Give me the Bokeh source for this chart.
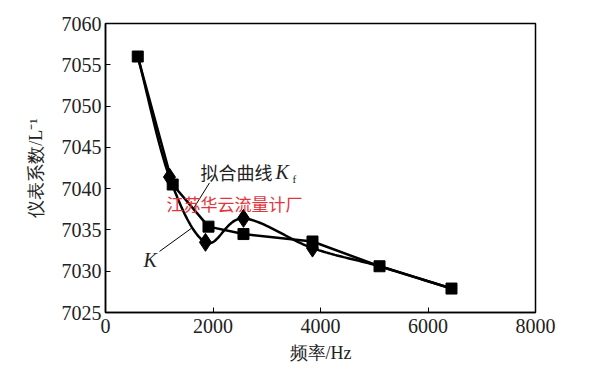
import numpy as np
from bokeh.plotting import figure
from bokeh.models import Range1d, Label, FixedTicker, Segment, ColumnDataSource
from bokeh.embed import file_html
from bokeh.resources import INLINE

# Data
freq_kf = [600, 1250, 1916, 2567, 3851, 5098, 6437]
k_fit = [7056.0, 7040.5, 7035.4, 7034.5, 7033.6, 7030.6, 7027.9]

freq_k = [600, 1190, 1860, 2567, 3851, 5098, 6437]
k_meas = [7056.0, 7041.4, 7033.5, 7036.4, 7032.8, 7030.6, 7027.9]
diamond_idx = [1, 2, 3, 4]

x_ticks = [0, 2000, 4000, 6000, 8000]
y_ticks = [7025, 7030, 7035, 7040, 7045, 7050, 7055, 7060]

SERIF = "Liberation Serif"
CJK = "Noto Sans CJK SC"


def catmull_rom(xs, ys, n=30):
    xs = np.asarray(xs, float)
    ys = np.asarray(ys, float)
    px = np.concatenate([[2 * xs[0] - xs[1]], xs, [2 * xs[-1] - xs[-2]]])
    py = np.concatenate([[2 * ys[0] - ys[1]], ys, [2 * ys[-1] - ys[-2]]])
    outx, outy = [], []
    t = np.linspace(0, 1, n, endpoint=False)
    for i in range(1, len(px) - 2):
        for P, out in ((px, outx), (py, outy)):
            p0, p1, p2, p3 = P[i - 1], P[i], P[i + 1], P[i + 2]
            out.extend(0.5 * ((2 * p1) + (-p0 + p2) * t
                              + (2 * p0 - 5 * p1 + 4 * p2 - p3) * t ** 2
                              + (-p0 + 3 * p1 - 3 * p2 + p3) * t ** 3))
    outx.append(xs[-1])
    outy.append(ys[-1])
    return outx, outy


p = figure(frame_width=430, frame_height=289, output_backend="svg",
           toolbar_location=None,
           x_range=Range1d(0, 8000), y_range=Range1d(7025, 7060),
           min_border_left=105, min_border_right=45, min_border_top=23,
           min_border_bottom=40)
p.xgrid.visible = False
p.ygrid.visible = False
p.outline_line_color = "black"
p.outline_line_width = 1.5
p.background_fill_color = "white"
p.border_fill_color = "white"

for ax in (p.xaxis[0], p.yaxis[0]):
    ax.axis_line_width = 1.5
    ax.major_tick_in = 5
    ax.major_tick_out = 0
    ax.minor_tick_line_color = None
    ax.major_label_text_font = SERIF
    ax.major_label_text_font_size = "20px"
    ax.major_label_text_color = "#222222"
    ax.axis_label_text_font = SERIF
    ax.axis_label_text_font_size = "18px"
    ax.axis_label_text_font_style = "normal"
    ax.axis_label_text_color = "#222222"

p.xaxis.ticker = FixedTicker(ticks=x_ticks)
p.yaxis.ticker = FixedTicker(ticks=y_ticks)
p.xaxis.axis_label = "频率/Hz"
p.yaxis.axis_label = "仪表系数/L⁻¹"
p.xaxis.major_label_standoff = 6
p.yaxis.major_label_standoff = 4
p.xaxis.axis_label_standoff = 7
p.yaxis.axis_label_standoff = 13

# smooth curve K
cx, cy = catmull_rom(freq_k, k_meas)
p.line(cx, cy, line_color="black", line_width=2.5)
p.scatter([freq_k[i] for i in diamond_idx], [k_meas[i] for i in diamond_idx],
          marker="diamond", size=18, color="black")

# fitted curve Kf
p.line(freq_kf, k_fit, line_color="black", line_width=2.5)
p.scatter(freq_kf, k_fit, marker="square", size=11, color="black")

# leader lines
lead = ColumnDataSource(dict(x0=[1935, 1005], y0=[7040.7, 7032.4],
                             x1=[1637, 1600], y1=[7037.6, 7035.2]))
p.add_glyph(lead, Segment(x0="x0", y0="y0", x1="x1", y1="y1",
                          line_color="black", line_width=1))

p.add_layout(Label(x=1767, y=7042.0, text="拟合曲线", text_font=CJK,
                   text_font_size="18px", text_color="#222222",
                   text_baseline="middle"))
p.add_layout(Label(x=3163, y=7042.0, text="K", text_font=SERIF,
                   text_font_style="italic", text_font_size="20px",
                   text_color="#222222", text_baseline="middle"))
p.add_layout(Label(x=3480, y=7041.2, text="f", text_font=SERIF,
                   text_font_size="11px", text_color="#222222",
                   text_baseline="middle"))
p.add_layout(Label(x=707, y=7031.4, text="K", text_font=SERIF,
                   text_font_style="italic", text_font_size="20px",
                   text_color="#222222", text_baseline="middle"))
p.add_layout(Label(x=1135, y=7038.25, text="江苏华云流量计厂", text_font=CJK,
                   text_font_size="17px", text_color="#e5333b",
                   text_baseline="middle"))

open("out.html", "w").write(file_html(p, INLINE))
